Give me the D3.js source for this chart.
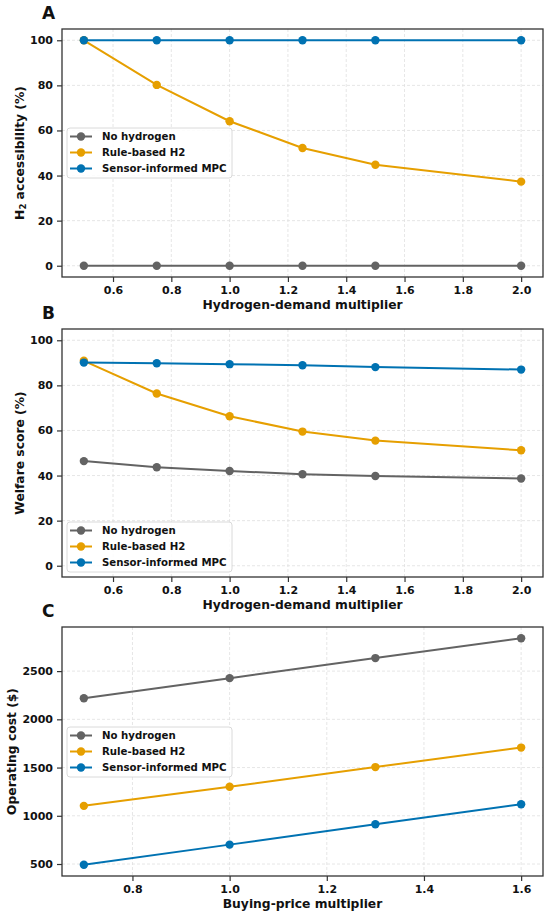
<!DOCTYPE html>
<html>
<head>
<meta charset="utf-8">
<script src="https://cdn.jsdelivr.net/npm/d3@7"></script>
<style>
  body { margin: 0; background: #fff; }
  svg text { font-family: "DejaVu Sans", sans-serif; font-weight: bold; fill: #111; }
</style>
</head>
<body>
<div id="chart"></div>
<script>
var svgWidth = 550;
var svgHeight = 917;

// Data
var seriesNames = ["No hydrogen", "Rule-based H2", "Sensor-informed MPC"];
var seriesColors = ["#636363", "#E69F00", "#0072B2"];

var demandMultipliers = [0.5, 0.75, 1.0, 1.25, 1.5, 2.0];
var accessNoH2 = [0, 0, 0, 0, 0, 0];
var accessRule = [100, 80.2, 64.1, 52.2, 44.8, 37.3];
var accessMPC = [100, 100, 100, 100, 100, 100];

var welfareNoH2 = [46.4, 43.7, 42.0, 40.6, 39.8, 38.7];
var welfareRule = [90.9, 76.4, 66.3, 59.5, 55.5, 51.2];
var welfareMPC = [90.1, 89.8, 89.4, 88.9, 88.1, 87.0];

var priceMultipliers = [0.7, 1.0, 1.3, 1.6];
var costNoH2 = [2219, 2427, 2635, 2840];
var costRule = [1103, 1301, 1505, 1707];
var costMPC = [493, 701, 912, 1120];

var demandTicks = [0.6, 0.8, 1.0, 1.2, 1.4, 1.6, 1.8, 2.0];
var percentTicks = [0, 20, 40, 60, 80, 100];
var priceTicks = [0.8, 1.0, 1.2, 1.4, 1.6];
var costTicks = [500, 1000, 1500, 2000, 2500];

var panels = [
  {
    letter: "A", top: 29, bottom: 277,
    x: demandMultipliers, ys: [accessNoH2, accessRule, accessMPC],
    xTicks: demandTicks, yTicks: percentTicks, yDomain: [-5, 105],
    xFormat: d3.format(".1f"), yFormat: d3.format("d"),
    xLabel: "Hydrogen-demand multiplier", yLabel: "access",
    yLabelX: 20, legendTop: 128
  },
  {
    letter: "B", top: 329, bottom: 577,
    x: demandMultipliers, ys: [welfareNoH2, welfareRule, welfareMPC],
    xTicks: demandTicks, yTicks: percentTicks, yDomain: [-5, 105],
    xFormat: d3.format(".1f"), yFormat: d3.format("d"),
    xLabel: "Hydrogen-demand multiplier", yLabel: "Welfare score (%)",
    yLabelX: 20, legendTop: 522
  },
  {
    letter: "C", top: 627, bottom: 876,
    x: priceMultipliers, ys: [costNoH2, costRule, costMPC],
    xTicks: priceTicks, yTicks: costTicks, yDomain: null,
    xFormat: d3.format(".1f"), yFormat: d3.format("d"),
    xLabel: "Buying-price multiplier", yLabel: "Operating cost ($)",
    yLabelX: 12, legendTop: 727
  }
];

var left = 62, right = 543;

var svg = d3.select("#chart")
  .append("svg")
  .attr("width", svgWidth)
  .attr("height", svgHeight);

// matplotlib-like 5% padding
function padded(ext) {
  var p = (ext[1] - ext[0]) * 0.05;
  return [ext[0] - p, ext[1] + p];
}

panels.forEach(function(p) {
  var xScale = d3.scaleLinear()
    .domain(padded(d3.extent(p.x)))
    .range([left, right]);

  var yDomain = p.yDomain || padded([d3.min(p.ys, s => d3.min(s)), d3.max(p.ys, s => d3.max(s))]);
  var yScale = d3.scaleLinear()
    .domain(yDomain)
    .range([p.bottom, p.top]);

  var g = svg.append("g");

  // Grid
  g.append("g").selectAll("line")
    .data(p.xTicks)
    .enter()
    .append("line")
    .attr("x1", d => xScale(d)).attr("x2", d => xScale(d))
    .attr("y1", p.top).attr("y2", p.bottom)
    .attr("stroke", "#e0e0e0")
    .attr("stroke-width", 0.8)
    .attr("stroke-dasharray", "3,2");

  g.append("g").selectAll("line")
    .data(p.yTicks)
    .enter()
    .append("line")
    .attr("x1", left).attr("x2", right)
    .attr("y1", d => yScale(d)).attr("y2", d => yScale(d))
    .attr("stroke", "#e0e0e0")
    .attr("stroke-width", 0.8)
    .attr("stroke-dasharray", "3,2");

  // Axes
  var xAxis = g.append("g")
    .attr("transform", `translate(0, ${p.bottom})`)
    .call(d3.axisBottom(xScale).tickValues(p.xTicks).tickFormat(p.xFormat).tickSize(5).tickPadding(4));

  var yAxis = g.append("g")
    .attr("transform", `translate(${left}, 0)`)
    .call(d3.axisLeft(yScale).tickValues(p.yTicks).tickFormat(p.yFormat).tickSize(5).tickPadding(4));

  [xAxis, yAxis].forEach(function(ax) {
    ax.select(".domain").remove();
    ax.selectAll(".tick line").attr("stroke", "#333").attr("stroke-width", 1.2);
    ax.selectAll(".tick text")
      .attr("font-size", "11px")
      .attr("font-family", "DejaVu Sans")
      .attr("font-weight", "bold")
      .attr("fill", "#111");
  });

  // Series
  var line = d3.line()
    .x(d => xScale(d[0]))
    .y(d => yScale(d[1]));

  p.ys.forEach(function(vals, i) {
    var pts = p.x.map((xv, j) => [xv, vals[j]]);
    g.append("path")
      .datum(pts)
      .attr("d", line)
      .attr("fill", "none")
      .attr("stroke", seriesColors[i])
      .attr("stroke-width", 2);

    g.append("g").selectAll("circle")
      .data(pts)
      .enter()
      .append("circle")
      .attr("cx", d => xScale(d[0]))
      .attr("cy", d => yScale(d[1]))
      .attr("r", 4.2)
      .attr("fill", seriesColors[i]);
  });

  // Frame
  g.append("rect")
    .attr("x", left).attr("y", p.top)
    .attr("width", right - left).attr("height", p.bottom - p.top)
    .attr("fill", "none")
    .attr("stroke", "#333")
    .attr("stroke-width", 1.3);

  // Panel letter
  g.append("text")
    .attr("x", 42).attr("y", p.top - 10)
    .attr("font-size", "17px")
    .text(p.letter);

  // X label
  g.append("text")
    .attr("x", (left + right) / 2)
    .attr("y", p.bottom + 32)
    .attr("text-anchor", "middle")
    .attr("font-size", "12.3px")
    .text(p.xLabel);

  // Y label
  var yl = g.append("text")
    .attr("transform", `translate(${p.yLabelX}, ${(p.top + p.bottom) / 2}) rotate(-90)`)
    .attr("text-anchor", "middle")
    .attr("dominant-baseline", "middle")
    .attr("font-size", "12.3px");
  if (p.yLabel === "access") {
    yl.append("tspan").text("H");
    yl.append("tspan").attr("font-size", "8.5px").attr("dy", 2.5).text("2");
    yl.append("tspan").attr("dy", -2.5).text(" accessibility (%)");
  } else {
    yl.text(p.yLabel);
  }

  // Legend
  var lg = g.append("g").attr("transform", `translate(67, ${p.legendTop})`);
  lg.append("rect")
    .attr("width", 165).attr("height", 50)
    .attr("rx", 3)
    .attr("fill", "#fff")
    .attr("fill-opacity", 0.85)
    .attr("stroke", "#d0d0d0")
    .attr("stroke-width", 0.8);
  seriesNames.forEach(function(name, i) {
    var cy = 8.5 + i * 16;
    lg.append("line")
      .attr("x1", 3).attr("x2", 25)
      .attr("y1", cy).attr("y2", cy)
      .attr("stroke", seriesColors[i])
      .attr("stroke-width", 2);
    lg.append("circle")
      .attr("cx", 14).attr("cy", cy)
      .attr("r", 4.2)
      .attr("fill", seriesColors[i]);
    lg.append("text")
      .attr("x", 35).attr("y", cy)
      .attr("dominant-baseline", "central")
      .attr("font-size", "10.2px")
      .text(name);
  });
});
</script>
</body>
</html>
